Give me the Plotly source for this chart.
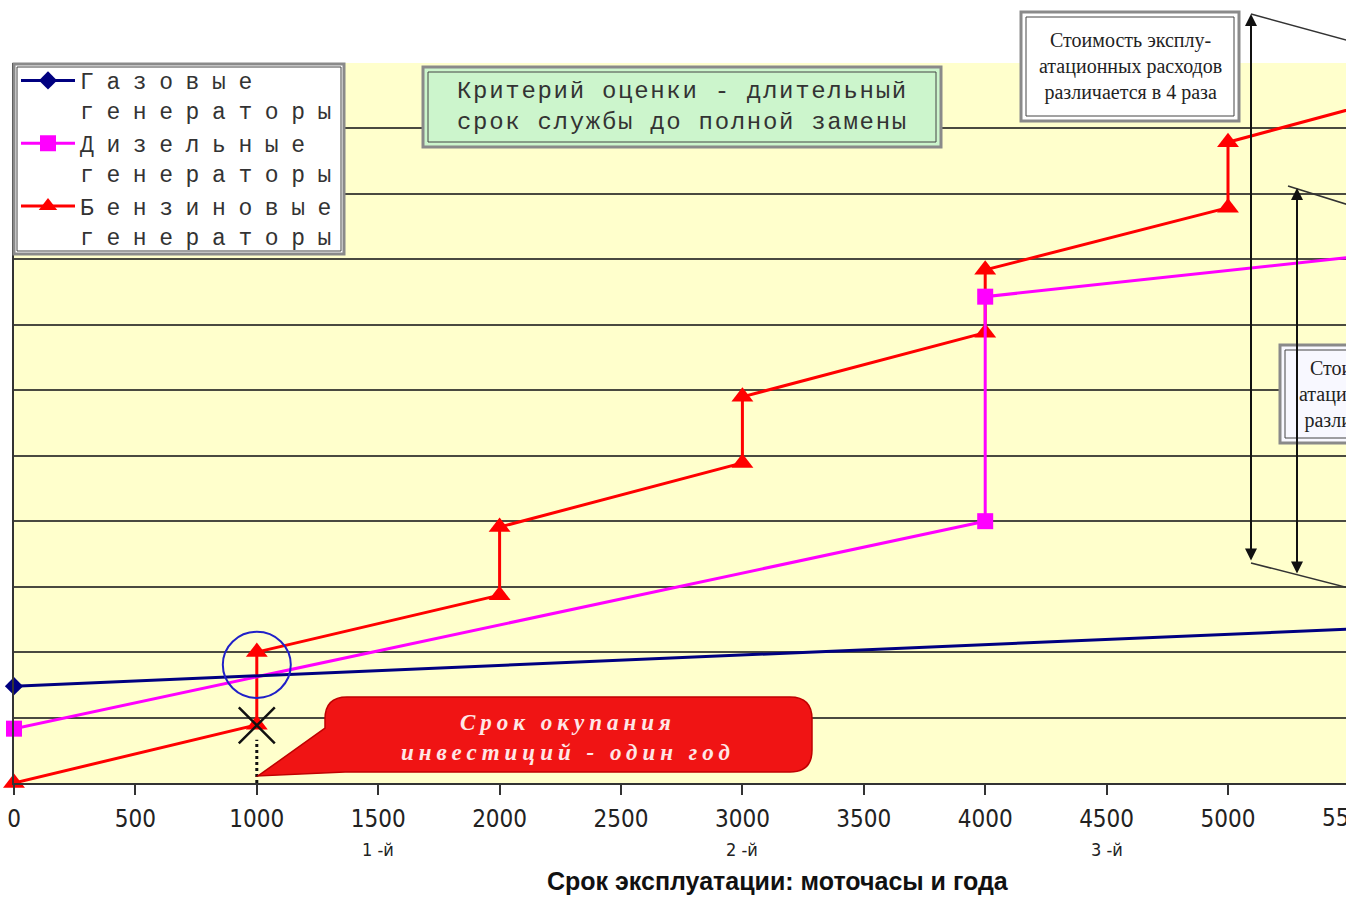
import plotly.graph_objects as go

# ---------------- data ----------------
hours_gas = [0, 6000]
cost_gas = [1.48, 2.43]

hours_diesel = [0, 4000, 4000, 6000]
cost_diesel = [0.83, 4.0, 7.43, 8.23]

hours_petrol = [0, 1000, 1000, 2000, 2000, 3000, 3000, 4000, 4000, 5000, 5000, 6000]
cost_petrol = [0, 0.89, 2.0, 2.87, 3.91, 4.89, 5.90, 6.88, 7.84, 8.79, 9.79, 10.79]

payback_hours = [1000]
payback_cost = [0.88]

tick_vals = [0, 500, 1000, 1500, 2000, 2500, 3000, 3500, 4000, 4500, 5000]
tick_text = [str(v) for v in tick_vals]
year_hours = [1500, 3000, 4500]
year_labels = ["1 -й", "2 -й", "3 -й"]

name_gas = ["Газовые", "генераторы"]
name_diesel = ["Дизельные", "генераторы"]
name_petrol = ["Бензиновые", "генераторы"]

# ---------------- geometry helpers ----------------
W, H = 1346, 897
L, R, T, B = 14, 0, 63, 114
PW, PH = W - L - R, H - T - B


def px(x):
    return (x - L) / PW


def py(y):
    return (H - B - y) / PH


def spaced(lines, sp):
    return "<br>".join(f'<span style="letter-spacing:{sp}px">{s}</span>' for s in lines)


LEG_FONT = dict(family="Liberation Mono, Courier New, monospace", size=23, color="#333333")

fig = go.Figure()
fig.add_trace(go.Scatter(
    x=hours_petrol, y=cost_petrol, mode="lines+markers", name=spaced(name_petrol, 12.6),
    line=dict(color="#FF0000", width=3), cliponaxis=False,
    marker=dict(symbol="triangle-up", size=19, color="#FF0000"),
))
fig.add_trace(go.Scatter(
    x=hours_diesel, y=cost_diesel, mode="lines+markers", name=spaced(name_diesel, 12.6),
    line=dict(color="#FF00FF", width=3), cliponaxis=False,
    marker=dict(symbol="square", size=16, color="#FF00FF"),
))
fig.add_trace(go.Scatter(
    x=hours_gas, y=cost_gas, mode="lines+markers", name=spaced(name_gas, 12.6),
    line=dict(color="#000080", width=3), cliponaxis=False,
    marker=dict(symbol="diamond", size=14, color="#000080"),
))
fig.add_trace(go.Scatter(
    x=payback_hours, y=payback_cost, mode="markers", showlegend=False, cliponaxis=False,
    marker=dict(symbol="x-thin-open", size=36, color="#111111",
                line=dict(color="#111111", width=2.5)),
))

shapes = []
# dotted drop line and blue circle (data coords)
shapes.append(dict(type="line", xref="x", yref="y", x0=1000, x1=1000, y0=0, y1=0.66,
                   line=dict(color="#111111", width=3, dash="dot")))
shapes.append(dict(type="circle", xref="x", yref="y", x0=860, x1=1140, y0=1.30, y1=2.31,
                   line=dict(color="#2020C8", width=2)))


def box(x0, y0, x1, y1, fill, inset=5):
    shapes.append(dict(type="rect", xref="paper", yref="paper",
                       x0=px(x0), x1=px(x1), y0=py(y1), y1=py(y0),
                       fillcolor=fill, line=dict(color="#8a8a8a", width=3)))
    shapes.append(dict(type="rect", xref="paper", yref="paper",
                       x0=px(x0 + inset), x1=px(x1 - inset), y0=py(y1 - inset), y1=py(y0 + inset),
                       line=dict(color="#444444", width=1)))


box(14, 64, 344, 254, "#FFFFFF", inset=3)   # legend frame
box(423, 67, 941, 147, "#CCF5CC")
box(1021, 12, 1239, 121, "#FFFFFF")
box(1280, 345, 1500, 443, "#F8F8FF")

# callout bubble
r = 22
pts = [
    f"M{px(325 + r)},{py(697)}",
    f"L{px(812 - r)},{py(697)}",
    f"Q{px(812)},{py(697)} {px(812)},{py(697 + r)}",
    f"L{px(812)},{py(772 - r)}",
    f"Q{px(812)},{py(772)} {px(812 - r)},{py(772)}",
    f"L{px(345)},{py(772)}",
    f"L{px(258)},{py(776)}",
    f"L{px(325)},{py(728)}",
    f"L{px(325)},{py(697 + r)}",
    f"Q{px(325)},{py(697)} {px(325 + r)},{py(697)}",
    "Z",
]
shapes.append(dict(type="path", xref="paper", yref="paper", path=" ".join(pts),
                   fillcolor="#F01414", line=dict(color="#C00000", width=1.5)))

# slanted leader lines
for (x0, y0, x1, y1) in [(1251, 14, 1400, 54.8), (1288, 186, 1400, 221),
                         (1251, 563, 1400, 601)]:
    shapes.append(dict(type="line", xref="paper", yref="paper",
                       x0=px(x0), y0=py(y0), x1=px(x1), y1=py(y1),
                       line=dict(color="#333333", width=1.5)))

annotations = []
# double-headed arrows
for (x, y0, y1) in [(1251, 14, 562), (1297, 188, 575)]:
    annotations.append(dict(x=px(x), y=py(y0), xref="paper", yref="paper", text="",
                            showarrow=True, ax=0, ay=y1 - y0, axref="pixel", ayref="pixel",
                            arrowside="end+start", arrowhead=2, arrowsize=1.2,
                            arrowwidth=2, arrowcolor="#111111", standoff=0, startstandoff=0))


def note(x, y, text, font, xref="paper"):
    annotations.append(dict(x=x, y=y, xref=xref, yref="paper", text=text, showarrow=False,
                            xanchor="center", yanchor="middle", font=font))


note(px(682), py(107), spaced(["Критерий оценки - длительный",
                               "срок службы до полной замены"], 1.7),
     dict(family="Liberation Mono, monospace", size=24, color="#333333"))

SERIF = "Liberation Serif, Times New Roman, serif"
note(px(1130), py(67), "Стоимость эксплу-<br>атационных расходов<br>различается в 4 раза",
     dict(family=SERIF, size=20, color="#222222"))
note(px(1390), py(394), "Стоимость эксплу-<br>атационных расходов<br>различается в 2 раза",
     dict(family=SERIF, size=20, color="#222222"))

note(px(568), py(737), spaced(["<b><i>Срок окупания</i></b>",
                               "<b><i>инвестиций - один год</i></b>"], 5),
     dict(family=SERIF, size=23, color="#FFE6E6"))

NARROW = "Liberation Sans Narrow, DejaVu Sans Condensed, Liberation Sans, sans-serif"
for hx, lab in zip(year_hours, year_labels):
    note(hx, py(850), lab, dict(family=NARROW, size=18, color="#222222"), xref="x")
note(px(14 + 5500 * PW / 5486), py(818), "5500",
     dict(family=NARROW, size=24, color="#222222"))
note(px(778), py(881), "<b>Срок эксплуатации: моточасы и года</b>",
     dict(family="Liberation Sans, Arial, sans-serif", size=25, color="#111111"))

fig.update_layout(
    width=W, height=H,
    margin=dict(l=L, r=R, t=T, b=B, pad=0),
    paper_bgcolor="#FFFFFF", plot_bgcolor="#FFFFCC",
    shapes=shapes, annotations=annotations,
    legend=dict(x=px(16), y=py(59), xanchor="left", yanchor="top",
                bgcolor="rgba(0,0,0,0)", borderwidth=0,
                font=LEG_FONT, traceorder="reversed", valign="top",
                itemwidth=54, tracegroupgap=0),
    xaxis=dict(range=[0, 5486], tickvals=tick_vals, ticktext=tick_text,
               showgrid=False, zeroline=False, showline=True, linecolor="#333333",
               linewidth=2, ticks="outside", ticklen=10, tickwidth=1.5, tickcolor="#333333",
               tickfont=dict(family=NARROW, size=24, color="#222222"),
               ticklabelstandoff=3),
    yaxis=dict(range=[0, 11], dtick=1, showticklabels=False, showgrid=True,
               gridcolor="#4A4A40", gridwidth=2, zeroline=False, showline=True,
               linecolor="#333333", linewidth=2, ticks=""),
    showlegend=True,
)

fig.write_html("out.html", config={"displayModeBar": False},
               post_script="document.body.style.margin='0';document.body.style.overflow='hidden';")
